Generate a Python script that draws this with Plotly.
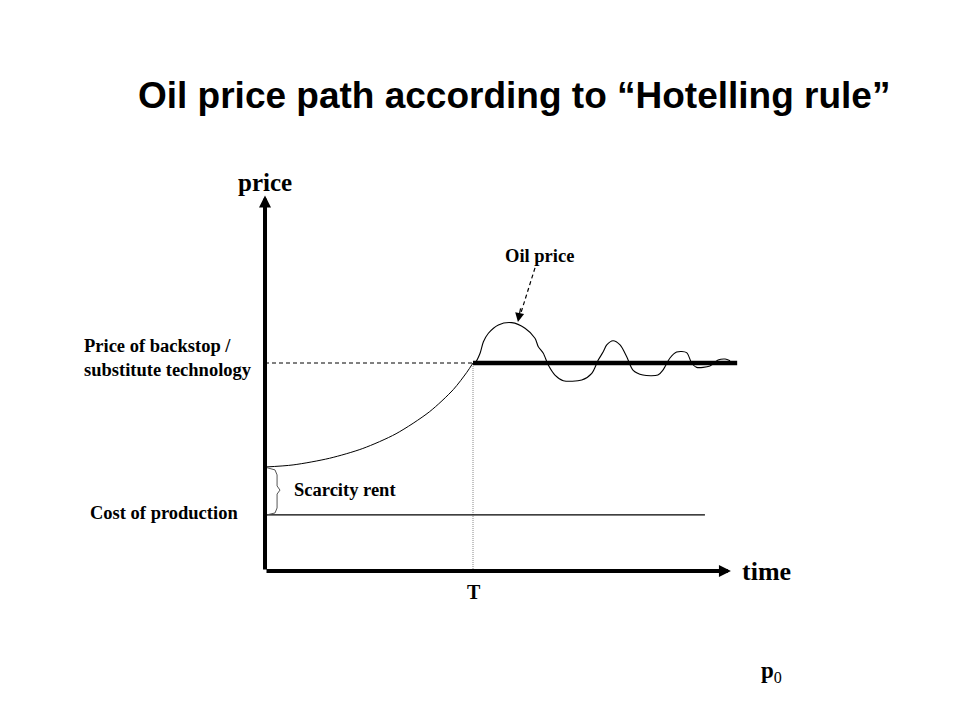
import plotly.graph_objects as go

# ---------------- data (time units, price units) ----------------
T_switch = 10.0            # time T at which backstop takes over
backstop_price = 10.0      # price of backstop / substitute technology
cost_price = 2.7           # cost of production
initial_price = 5.0        # p0 (price at time 0)

# Hotelling price path
hotelling_time = [0.0, 1.35, 3.1, 4.7, 6.3, 7.9, 9.05, 9.7, 10.0]
hotelling_price = [5.0, 5.1, 5.42, 5.89, 6.6, 7.65, 8.72, 9.55, 10.0]

# Oil price fluctuating around the backstop price
oil_time = [10.0, 10.1, 10.34, 10.5, 10.74, 11.22, 11.86, 12.5, 12.98, 13.14, 13.38,
            13.62, 13.94, 14.34, 15.23, 15.71, 16.02, 16.26, 16.43, 16.73, 17.07,
            17.39, 17.69, 18.17, 18.89, 19.13, 19.47, 19.79, 20.27, 20.51, 20.75,
            21.39, 21.78, 22.12, 22.36]
oil_price = [10.0, 10.01, 10.47, 11.02, 11.43, 11.83, 11.94, 11.67, 11.19, 10.78, 10.47,
             9.9, 9.42, 9.15, 9.18, 9.5, 10.14, 10.54, 10.87, 11.07, 10.87,
             10.3, 9.66, 9.42, 9.42, 9.66, 10.24, 10.53, 10.5, 10.0, 9.79,
             9.86, 10.14, 10.19, 10.11]

# Brace marking the scarcity rent
brace_time = [0.05, 0.48, 0.58, 0.58, 0.72, 0.58, 0.58, 0.48, 0.05]
brace_price = [4.98, 4.86, 4.62, 4.09, 3.89, 3.70, 3.03, 2.79, 2.69]

time_axis_end = 22.4
price_axis_end = 18.05
backstop_line_end = 22.7
cost_line_end = 21.15

# pointer from "Oil price" label to the curve
pointer_time = [12.98, 12.3]
pointer_price = [14.57, 12.4]
pointer_tip = (12.16, 11.97)

SERIF = "Times New Roman, Liberation Serif, serif"
SANS = "Arial, Liberation Sans, sans-serif"

fig = go.Figure()

# dashed backstop line up to T
fig.add_trace(go.Scatter(x=[0, T_switch], y=[backstop_price, backstop_price], mode="lines",
                         line=dict(color="black", width=1, dash="4px,3px"), hoverinfo="skip"))
# dotted vertical at T
fig.add_trace(go.Scatter(x=[T_switch, T_switch], y=[0, backstop_price], mode="lines",
                         line=dict(color="#888888", width=1, dash="1px,1px"), hoverinfo="skip"))
# cost of production
fig.add_trace(go.Scatter(x=[0, cost_line_end], y=[cost_price, cost_price], mode="lines",
                         line=dict(color="black", width=1.2), hoverinfo="skip"))
# Hotelling path
fig.add_trace(go.Scatter(x=hotelling_time, y=hotelling_price, mode="lines", line_shape="spline",
                         line=dict(color="black", width=1, smoothing=0.8), hoverinfo="skip"))
# oil price fluctuation
fig.add_trace(go.Scatter(x=oil_time, y=oil_price, mode="lines", line_shape="spline",
                         line=dict(color="black", width=1.1, smoothing=0.8), hoverinfo="skip"))
# bold backstop line after T
fig.add_trace(go.Scatter(x=[T_switch, backstop_line_end], y=[backstop_price, backstop_price], mode="lines",
                         line=dict(color="black", width=4.5), hoverinfo="skip"))
# brace
fig.add_trace(go.Scatter(x=brace_time, y=brace_price, mode="lines",
                         line=dict(color="#555555", width=1), hoverinfo="skip"))
# dashed pointer
fig.add_trace(go.Scatter(x=pointer_time, y=pointer_price, mode="lines",
                         line=dict(color="black", width=1.2, dash="4px,3px"), hoverinfo="skip"))

annotations = []
# axes arrows
annotations.append(dict(x=time_axis_end, y=0, ax=0, ay=0, xref="x", yref="y", axref="x", ayref="y",
                        text="", showarrow=True, arrowhead=2, arrowsize=0.6, arrowwidth=4,
                        arrowcolor="black", standoff=0))
annotations.append(dict(x=0, y=price_axis_end, ax=0, ay=0, xref="x", yref="y", axref="x", ayref="y",
                        text="", showarrow=True, arrowhead=2, arrowsize=0.6, arrowwidth=4,
                        arrowcolor="black", standoff=0))
# pointer head
annotations.append(dict(x=pointer_tip[0], y=pointer_tip[1], ax=pointer_time[1], ay=pointer_price[1] + 0.3,
                        xref="x", yref="y", axref="x", ayref="y",
                        text="", showarrow=True, arrowhead=2, arrowsize=1.5, arrowwidth=1.2,
                        arrowcolor="black", standoff=0))

def label(text, x, y, size, xanchor="center", yanchor="middle", align="center", bold=True):
    annotations.append(dict(x=x, y=y, xref="x", yref="y", showarrow=False,
                            text=f"<b>{text}</b>" if bold else text,
                            font=dict(family=SERIF, size=size, color="black"),
                            xanchor=xanchor, yanchor=yanchor, align=align))

label("price", 0, 18.7, 25)
label("time", 22.84, 0.0, 26, xanchor="left")
label("T", T_switch + 0.05, -1.0, 20)
annotations.append(dict(x=24.35, y=-4.86, xref="x", yref="y", showarrow=False,
                        text="<b>p</b><sub>0</sub>",
                        font=dict(family=SERIF, size=23, color="black")))
label("Price of backstop /<br>substitute technology", -8.8, backstop_price + 0.24, 18.5,
      xanchor="left", align="left")
label("Cost of production", -4.86, cost_price + 0.1, 18.5)
label("Scarcity rent", 1.3, 3.89, 18.5, xanchor="left")
label("Oil price", 13.22, 15.14, 18.5)

# title
annotations.append(dict(x=0.5315, y=0.877, xref="paper", yref="paper", showarrow=False,
                        text="<b>Oil price path according to \u201cHotelling rule\u201d</b>",
                        font=dict(family=SANS, size=37, color="black"),
                        xanchor="center", yanchor="middle"))

fig.update_layout(
    width=952, height=712,
    margin=dict(l=0, r=0, t=0, b=0),
    paper_bgcolor="white", plot_bgcolor="white",
    showlegend=False,
    xaxis=dict(range=[-12.356, 33.413], visible=False, fixedrange=True),
    yaxis=dict(range=[-7.163, 27.067], visible=False, fixedrange=True),
    annotations=annotations,
)

fig.write_html("out.html")
